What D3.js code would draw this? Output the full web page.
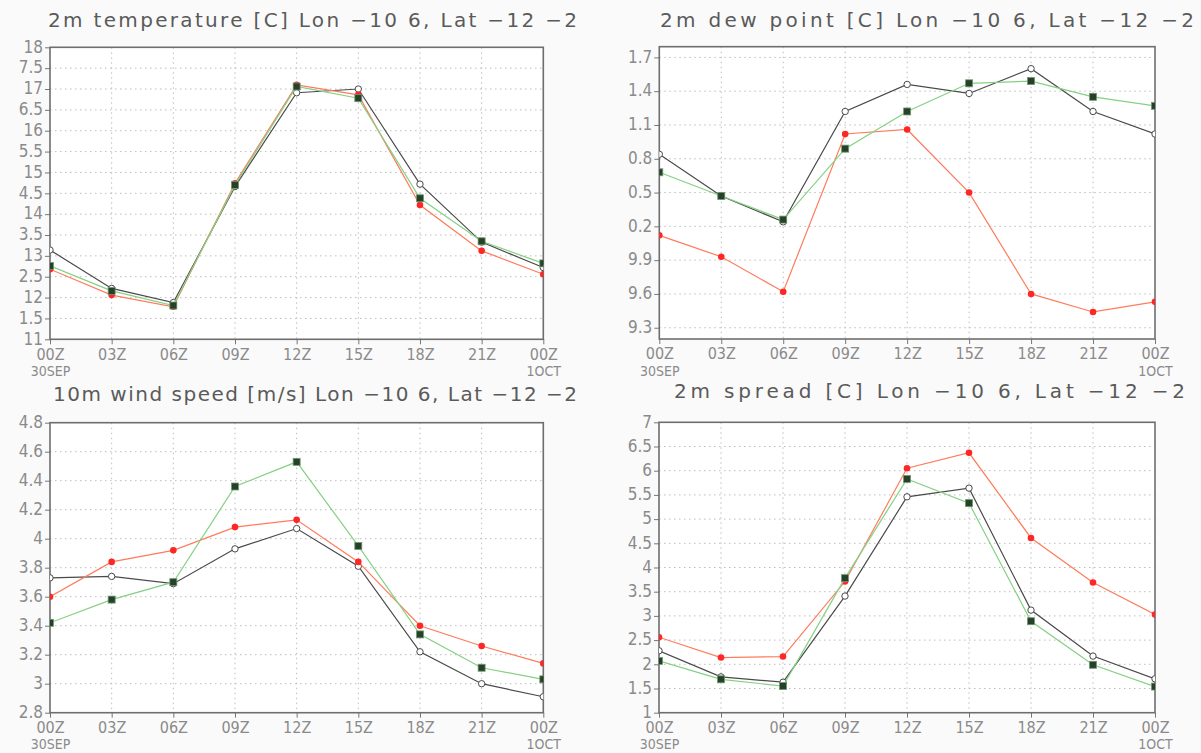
<!DOCTYPE html>
<html>
<head>
<meta charset="utf-8">
<script src="https://cdn.jsdelivr.net/npm/d3@7"></script>
<style>
  html, body { margin: 0; padding: 0; background: #fafafa; }
  svg { display: block; }
</style>
</head>
<body>
<svg id="chart" width="1201" height="753"></svg>
<script>
// ---------------- DATA ----------------
const times = ["00Z", "03Z", "06Z", "09Z", "12Z", "15Z", "18Z", "21Z", "00Z"];
const dateLabels = ["30SEP", "", "", "", "", "", "", "", "1OCT"];

// 2m temperature [C]
const tempBlack = [13.14, 12.22, 11.88, 14.66, 16.91, 17.00, 14.72, 13.33, 12.72];
const tempGreen = [12.76, 12.16, 11.81, 14.70, 17.06, 16.78, 14.38, 13.35, 12.82];
const tempRed   = [12.68, 12.06, 11.78, 14.74, 17.10, 16.86, 14.22, 13.12, 12.56];
const tempTicks = [11, 11.5, 12, 12.5, 13, 13.5, 14, 14.5, 15, 15.5, 16, 16.5, 17, 17.5, 18];
const tempTickLabels = ["11", "1.5", "12", "2.5", "13", "3.5", "14", "4.5", "15", "5.5", "16", "6.5", "17", "7.5", "18"];

// 2m dew point [C]
const dewBlack = [10.84, 10.47, 10.24, 11.22, 11.46, 11.38, 11.60, 11.22, 11.02];
const dewGreen = [10.68, 10.47, 10.26, 10.89, 11.22, 11.47, 11.49, 11.35, 11.27];
const dewRed   = [10.12, 9.93, 9.62, 11.02, 11.06, 10.50, 9.60, 9.44, 9.53];
const dewTicks = [9.3, 9.6, 9.9, 10.2, 10.5, 10.8, 11.1, 11.4, 11.7];
const dewTickLabels = ["9.3", "9.6", "9.9", "0.2", "0.5", "0.8", "1.1", "1.4", "1.7"];

// 10m wind speed [m/s]
const windBlack = [3.73, 3.74, 3.69, 3.93, 4.07, 3.81, 3.22, 3.00, 2.91];
const windGreen = [3.42, 3.58, 3.70, 4.36, 4.53, 3.95, 3.34, 3.11, 3.03];
const windRed   = [3.60, 3.84, 3.92, 4.08, 4.13, 3.84, 3.40, 3.26, 3.14];
const windTicks = [2.8, 3, 3.2, 3.4, 3.6, 3.8, 4, 4.2, 4.4, 4.6, 4.8];
const windTickLabels = ["2.8", "3", "3.2", "3.4", "3.6", "3.8", "4", "4.2", "4.4", "4.6", "4.8"];

// 2m spread [C]
const spreadBlack = [2.28, 1.74, 1.63, 3.41, 5.46, 5.64, 3.12, 2.17, 1.70];
const spreadGreen = [2.07, 1.69, 1.55, 3.78, 5.83, 5.33, 2.89, 1.99, 1.54];
const spreadRed   = [2.56, 2.14, 2.16, 3.71, 6.05, 6.37, 4.61, 3.69, 3.03];
const spreadTicks = [1, 1.5, 2, 2.5, 3, 3.5, 4, 4.5, 5, 5.5, 6, 6.5, 7];
const spreadTickLabels = ["1", "1.5", "2", "2.5", "3", "3.5", "4", "4.5", "5", "5.5", "6", "6.5", "7"];

const titles = [
  "2m temperature [C] Lon \u221210 6, Lat \u221212 \u22122",
  "2m dew point [C] Lon \u221210 6, Lat \u221212 \u22122",
  "10m wind speed [m/s] Lon \u221210 6, Lat \u221212 \u22122",
  "2m spread [C] Lon \u221210 6, Lat \u221212 \u22122"
];

// ---------------- LAYOUT ----------------
const panels = [
  { title: titles[0], black: tempBlack, green: tempGreen, red: tempRed,
    ticks: tempTicks, tickLabels: tempTickLabels, domain: [11, 18],
    x0: 50, x1: 543.3, y0: 47.3, y1: 339.3, tx0: 48, tx1: 577, ty: 27 },
  { title: titles[1], black: dewBlack, green: dewGreen, red: dewRed,
    ticks: dewTicks, tickLabels: dewTickLabels, domain: [9.2, 11.795],
    x0: 659.3, x1: 1155, y0: 46.7, y1: 339, tx0: 660, tx1: 1194, ty: 27 },
  { title: titles[2], black: windBlack, green: windGreen, red: windRed,
    ticks: windTicks, tickLabels: windTickLabels, domain: [2.8, 4.8],
    x0: 50, x1: 543.3, y0: 422.7, y1: 712.7, tx0: 53, tx1: 577, ty: 401 },
  { title: titles[3], black: spreadBlack, green: spreadGreen, red: spreadRed,
    ticks: spreadTicks, tickLabels: spreadTickLabels, domain: [1, 7],
    x0: 659, x1: 1155, y0: 422.3, y1: 712.7, tx0: 674, tx1: 1185, ty: 398 }
];

const svg = d3.select("#chart");
const tickFont = "'Liberation Sans Narrow', 'DejaVu Sans Condensed', 'Liberation Sans', sans-serif";
const titleFont = "'DejaVu Sans', 'Liberation Sans', sans-serif";

panels.forEach((p, pi) => {
  const x = d3.scalePoint().domain(d3.range(times.length)).range([p.x0, p.x1]);
  const y = d3.scaleLinear().domain(p.domain).range([p.y1, p.y0]);
  const g = svg.append("g");

  // clip
  const clipId = "clip" + pi;
  svg.append("defs").append("clipPath").attr("id", clipId)
    .append("rect").attr("x", p.x0).attr("y", p.y0)
    .attr("width", p.x1 - p.x0).attr("height", p.y1 - p.y0);

  // plot background
  g.append("rect").attr("x", p.x0).attr("y", p.y0)
    .attr("width", p.x1 - p.x0).attr("height", p.y1 - p.y0)
    .attr("fill", "#ffffff");

  // grid
  g.append("g").selectAll("line").data(p.ticks.filter(t => y(t) > p.y0 + 1 && y(t) < p.y1 - 1))
    .join("line")
    .attr("x1", p.x0).attr("x2", p.x1)
    .attr("y1", d => y(d)).attr("y2", d => y(d))
    .attr("stroke", "#bdbdbd").attr("stroke-width", 1)
    .attr("stroke-dasharray", "1.5,3.5");
  g.append("g").selectAll("line").data(d3.range(1, times.length - 1))
    .join("line")
    .attr("x1", d => x(d)).attr("x2", d => x(d))
    .attr("y1", p.y0).attr("y2", p.y1)
    .attr("stroke", "#bdbdbd").attr("stroke-width", 1)
    .attr("stroke-dasharray", "1.5,3.5");

  // y axis
  const yAxis = d3.axisLeft(y).tickValues(p.ticks)
    .tickFormat((d, i) => p.tickLabels[i]).tickSize(5).tickPadding(2);
  const ya = g.append("g").attr("transform", `translate(${p.x0},0)`).call(yAxis);
  ya.select(".domain").remove();
  ya.selectAll("line").attr("stroke", "#777");
  ya.selectAll("text").attr("font-family", tickFont).attr("font-size", 17)
    .attr("fill", "#8a8a8a").attr("dy", "0.28em");

  // x axis
  const xAxis = d3.axisBottom(x).tickFormat(i => times[i]).tickSize(5).tickPadding(4);
  const xa = g.append("g").attr("transform", `translate(0,${p.y1})`).call(xAxis);
  xa.select(".domain").remove();
  xa.selectAll("line").attr("stroke", "#777");
  xa.selectAll("text").attr("font-family", tickFont).attr("font-size", 16)
    .attr("fill", "#8a8a8a");
  xa.selectAll(".tick").filter(i => dateLabels[i] !== "")
    .append("text")
    .attr("y", 36.5).attr("text-anchor", "middle")
    .attr("font-family", tickFont).attr("font-size", 14)
    .attr("fill", "#8a8a8a")
    .text(i => dateLabels[i]);

  // frame
  g.append("rect").attr("x", p.x0).attr("y", p.y0)
    .attr("width", p.x1 - p.x0).attr("height", p.y1 - p.y0)
    .attr("fill", "none").attr("stroke", "#6e6e6e").attr("stroke-width", 1.6);

  // series
  const line = d3.line().x((d, i) => x(i)).y(d => y(d));
  const series = g.append("g").attr("clip-path", `url(#${clipId})`);

  // black with open circles
  series.append("path").datum(p.black).attr("d", line)
    .attr("fill", "none").attr("stroke", "#4a4a4a").attr("stroke-width", 1.2);
  series.append("g").selectAll("circle").data(p.black).join("circle")
    .attr("cx", (d, i) => x(i)).attr("cy", d => y(d)).attr("r", 3.2)
    .attr("fill", "#ffffff").attr("stroke", "#4a4a4a").attr("stroke-width", 1);

  // red with filled dots
  series.append("path").datum(p.red).attr("d", line)
    .attr("fill", "none").attr("stroke", "#ff7b5c").attr("stroke-width", 1.2);
  series.append("g").selectAll("circle").data(p.red).join("circle")
    .attr("cx", (d, i) => x(i)).attr("cy", d => y(d)).attr("r", 3.3)
    .attr("fill", "#ff2626").attr("stroke", "none");

  // green with dark squares
  series.append("path").datum(p.green).attr("d", line)
    .attr("fill", "none").attr("stroke", "#84d184").attr("stroke-width", 1.2);
  series.append("g").selectAll("rect").data(p.green).join("rect")
    .attr("x", (d, i) => x(i) - 3.5).attr("y", d => y(d) - 3.5)
    .attr("width", 7).attr("height", 7)
    .attr("fill", "#27402a").attr("stroke", "#6f9a6f").attr("stroke-width", 0.8);

  // title
  svg.append("text")
    .attr("x", p.tx0).attr("y", p.ty)
    .attr("textLength", p.tx1 - p.tx0).attr("lengthAdjust", "spacing")
    .attr("font-family", titleFont).attr("font-size", 20)
    .attr("fill", "#5a5a5a")
    .text(p.title);
});
</script>
</body>
</html>
